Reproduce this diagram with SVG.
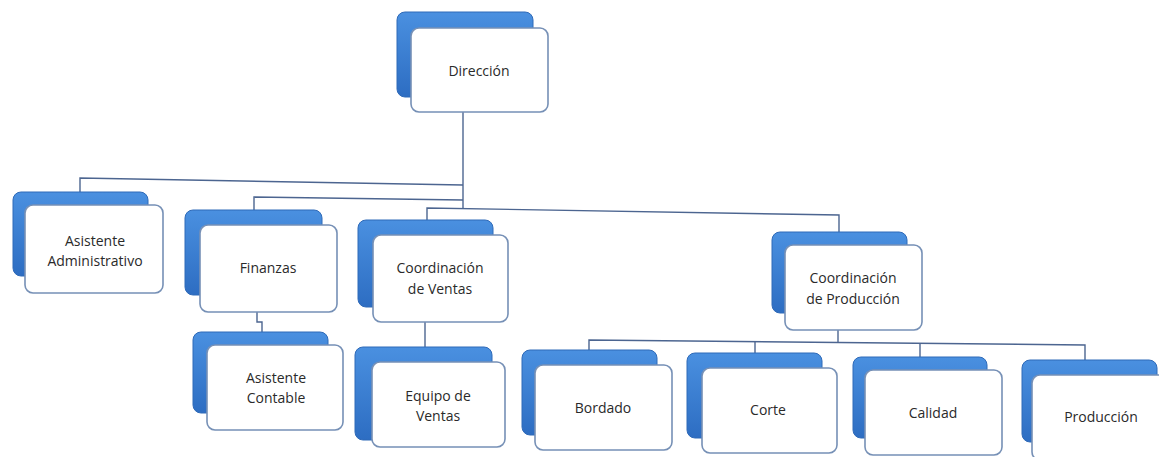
<svg xmlns="http://www.w3.org/2000/svg" width="1159" height="457" viewBox="0 0 1159 457">
<defs>
<linearGradient id="bg" x1="0" y1="0" x2="0" y2="1">
<stop offset="0" stop-color="#4a90e0"/>
<stop offset="1" stop-color="#2d6dc2"/>
</linearGradient>
<style>
.back{fill:url(#bg);stroke:#2f6ab8;stroke-width:1}
.front{fill:#ffffff;stroke:#7690b6;stroke-width:1.6}
.t{font-family:"Open Sans","Noto Sans",sans-serif;font-size:14px;fill:#2a2a2a;text-anchor:middle}
.c{fill:none;stroke:#4c6590;stroke-width:1.4}
</style>
</defs>
<rect width="1159" height="457" fill="#ffffff"/>
<g id="connectors">
<path class="c" d="M463 112 L463 208"/>
<path class="c" d="M463 185 L80 178 L80 192"/>
<path class="c" d="M463 200 L254 197 L254 210"/>
<path class="c" d="M427 220 L427 208 L839 215 L839 232"/>
<path class="c" d="M257 312 L257 322 L262 322 L262 332"/>
<path class="c" d="M425 322 L425 347"/>
<path class="c" d="M838 330 L838 342"/>
<path class="c" d="M589 352 L589 340 L1085 345 L1085 360"/>
<path class="c" d="M755 342 L755 353"/>
<path class="c" d="M920 343 L920 357"/>
</g>
<g id="direccion">
<rect class="back" x="397" y="12" width="136" height="85" rx="8"/>
<rect class="front" x="411" y="28" width="137" height="84" rx="8"/>
<text class="t" x="479" y="76">Dirección</text>
</g>
<g id="asistente-administrativo">
<rect class="back" x="13" y="192" width="135" height="84" rx="8"/>
<rect class="front" x="25" y="205" width="138" height="88" rx="8"/>
<text class="t" x="95" y="246">Asistente</text>
<text class="t" x="95" y="266">Administrativo</text>
</g>
<g id="finanzas">
<rect class="back" x="185" y="210" width="137" height="85" rx="8"/>
<rect class="front" x="200" y="225" width="137" height="87" rx="8"/>
<text class="t" x="268" y="273">Finanzas</text>
</g>
<g id="coordinacion-ventas">
<rect class="back" x="358" y="220" width="135" height="87" rx="8"/>
<rect class="front" x="373" y="235" width="135" height="87" rx="8"/>
<text class="t" x="440" y="273">Coordinación</text>
<text class="t" x="440" y="294">de Ventas</text>
</g>
<g id="coordinacion-produccion">
<rect class="back" x="772" y="232" width="135" height="81" rx="8"/>
<rect class="front" x="785" y="245" width="137" height="85" rx="8"/>
<text class="t" x="853" y="283">Coordinación</text>
<text class="t" x="853" y="304">de Producción</text>
</g>
<g id="asistente-contable">
<rect class="back" x="193" y="332" width="135" height="81" rx="8"/>
<rect class="front" x="207" y="345" width="136" height="85" rx="8"/>
<text class="t" x="276" y="383">Asistente</text>
<text class="t" x="276" y="403">Contable</text>
</g>
<g id="equipo-ventas">
<rect class="back" x="355" y="347" width="137" height="93" rx="8"/>
<rect class="front" x="372" y="362" width="133" height="85" rx="8"/>
<text class="t" x="438" y="401">Equipo de</text>
<text class="t" x="438" y="421">Ventas</text>
</g>
<g id="bordado">
<rect class="back" x="522" y="350" width="135" height="85" rx="8"/>
<rect class="front" x="535" y="365" width="137" height="85" rx="8"/>
<text class="t" x="603" y="413">Bordado</text>
</g>
<g id="corte">
<rect class="back" x="687" y="353" width="135" height="85" rx="8"/>
<rect class="front" x="702" y="368" width="135" height="85" rx="8"/>
<text class="t" x="768" y="415">Corte</text>
</g>
<g id="calidad">
<rect class="back" x="853" y="357" width="134" height="81" rx="8"/>
<rect class="front" x="865" y="370" width="137" height="85" rx="8"/>
<text class="t" x="933" y="418">Calidad</text>
</g>
<g id="produccion">
<rect class="back" x="1022" y="360" width="135" height="82" rx="8"/>
<rect class="front" x="1032" y="375" width="140" height="85" rx="8"/>
<text class="t" x="1101" y="422">Producción</text>
</g>
</svg>
